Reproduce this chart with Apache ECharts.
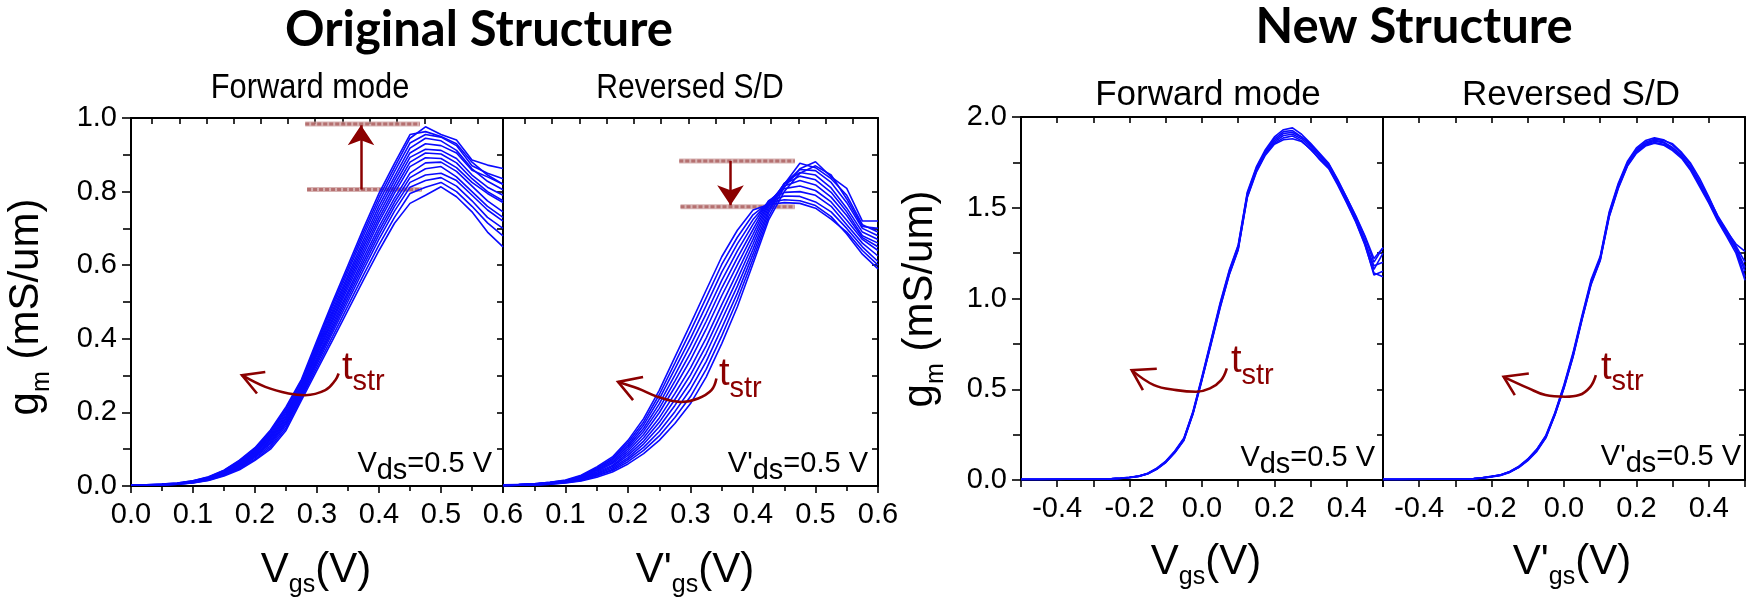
<!DOCTYPE html>
<html><head><meta charset="utf-8">
<script src="https://cdn.jsdelivr.net/npm/echarts@6/dist/echarts.min.js"></script>
<style>html,body{margin:0;padding:0;background:#fff}#c{width:1752px;height:604px}</style>
</head><body><div id="c"></div>
<script>
// ---------- data ----------
const vgsOrig = [0,0.025,0.05,0.075,0.1,0.125,0.15,0.175,0.2,0.225,0.25,0.275,0.3,0.325,0.35,0.375,0.4,0.425,0.45,0.475,0.5,0.525,0.55,0.575,0.6];
const vgsNew = [-0.5,-0.475,-0.45,-0.425,-0.4,-0.375,-0.35,-0.325,-0.3,-0.275,-0.25,-0.225,-0.2,-0.175,-0.15,-0.125,-0.1,-0.075,-0.05,-0.025,0,0.025,0.05,0.075,0.1,0.125,0.15,0.175,0.2,0.225,0.25,0.275,0.3,0.325,0.35,0.375,0.4,0.425,0.45,0.475,0.5];

// Original structure, forward mode (gm, mS/um)
const gmOrigFwd = [
 [.003,.003,.005,.008,.014,.025,.043,.070,.104,.152,.215,.290,.396,.500,.600,.700,.795,.877,.955,.963,.950,.930,.880,.845,.820],
 [.003,.003,.005,.008,.014,.024,.042,.068,.102,.148,.211,.286,.390,.493,.591,.690,.784,.866,.945,.976,.955,.940,.886,.872,.863],
 [.003,.003,.004,.007,.013,.023,.041,.066,.099,.145,.206,.282,.385,.485,.583,.680,.773,.854,.932,.955,.948,.925,.870,.850,.835],
 [.003,.003,.004,.007,.013,.023,.039,.064,.097,.141,.201,.277,.378,.477,.573,.669,.761,.841,.918,.945,.938,.912,.862,.828,.805],
 [.003,.003,.004,.007,.012,.022,.038,.062,.094,.137,.196,.273,.373,.470,.565,.659,.750,.830,.905,.930,.925,.905,.858,.840,.820],
 [.002,.003,.004,.007,.012,.021,.037,.061,.092,.133,.192,.269,.367,.463,.556,.650,.739,.818,.893,.915,.912,.890,.845,.812,.790],
 [.002,.003,.004,.007,.012,.020,.036,.059,.089,.130,.187,.265,.361,.455,.548,.640,.728,.807,.880,.905,.902,.878,.835,.800,.775],
 [.002,.003,.004,.006,.011,.020,.035,.057,.087,.126,.183,.262,.356,.448,.539,.630,.718,.796,.868,.892,.890,.865,.825,.795,.770],
 [.002,.002,.004,.006,.011,.019,.034,.055,.084,.122,.178,.257,.349,.440,.529,.619,.705,.782,.850,.878,.880,.855,.815,.775,.745],
 [.002,.002,.004,.006,.010,.018,.033,.053,.082,.118,.173,.253,.343,.432,.521,.609,.694,.771,.838,.862,.868,.840,.800,.760,.730],
 [.002,.002,.003,.006,.010,.018,.031,.051,.080,.115,.169,.249,.338,.425,.512,.599,.683,.760,.825,.845,.850,.830,.790,.750,.720],
 [.002,.002,.003,.005,.009,.017,.030,.049,.077,.110,.164,.244,.331,.417,.502,.588,.671,.747,.812,.830,.838,.815,.775,.730,.700],
 [.002,.002,.003,.005,.009,.016,.029,.047,.073,.105,.157,.239,.323,.406,.490,.574,.655,.730,.795,.812,.825,.800,.760,.715,.680],
 [.002,.002,.003,.005,.008,.015,.027,.044,.070,.100,.151,.233,.315,.396,.478,.560,.640,.714,.768,.790,.813,.786,.745,.690,.650]
];
// Original structure, reversed S/D
const gmOrigRev = [
 [.003,.004,.006,.010,.016,.029,.052,.079,.124,.183,.260,.350,.440,.532,.623,.695,.750,.765,.770,.768,.755,.725,.690,.640,.600],
 [.003,.004,.006,.010,.015,.027,.049,.075,.118,.174,.248,.334,.421,.511,.602,.676,.737,.770,.778,.775,.762,.732,.685,.630,.590],
 [.003,.004,.005,.009,.014,.026,.047,.072,.112,.166,.236,.318,.401,.490,.581,.658,.724,.772,.788,.787,.772,.745,.700,.650,.610],
 [.002,.003,.005,.009,.014,.025,.044,.068,.107,.157,.223,.301,.382,.468,.559,.639,.711,.775,.798,.800,.790,.760,.710,.660,.625],
 [.002,.003,.005,.008,.013,.023,.042,.064,.101,.149,.211,.285,.362,.447,.538,.620,.697,.774,.808,.815,.803,.772,.722,.670,.640],
 [.002,.003,.005,.008,.012,.022,.039,.061,.095,.140,.199,.269,.343,.426,.517,.601,.684,.770,.815,.830,.818,.785,.735,.675,.650],
 [.002,.003,.004,.007,.012,.020,.037,.056,.089,.131,.185,.251,.321,.402,.493,.581,.670,.765,.820,.842,.832,.798,.745,.680,.660],
 [.002,.003,.004,.007,.011,.019,.034,.053,.083,.122,.173,.235,.302,.381,.472,.562,.657,.758,.822,.852,.845,.810,.755,.690,.670],
 [.002,.002,.004,.006,.010,.018,.032,.049,.077,.114,.161,.219,.282,.360,.451,.543,.643,.750,.822,.860,.857,.825,.770,.700,.680],
 [.001,.002,.003,.006,.010,.016,.029,.045,.072,.105,.148,.202,.263,.338,.429,.524,.630,.742,.820,.877,.865,.835,.790,.710,.690],
 [.001,.002,.003,.005,.009,.015,.027,.042,.066,.097,.136,.186,.243,.317,.408,.506,.617,.732,.812,.862,.881,.840,.809,.720,.720],
 [.001,.002,.003,.005,.008,.014,.024,.038,.060,.088,.124,.170,.224,.296,.387,.487,.604,.723,.800,.850,.870,.845,.780,.705,.700]
];
// New structure, forward mode
const gmNewFwd = [
 [.004,.004,.004,.004,.004,.004,.004,.005,.005,.006,.007,.010,.015,.022,.037,.065,.104,.160,.232,.378,.570,.772,.975,1.155,1.295,1.585,1.725,1.820,1.890,1.930,1.940,1.905,1.855,1.800,1.745,1.655,1.555,1.450,1.340,1.200,1.280],
 [.004,.004,.004,.004,.004,.004,.004,.004,.005,.006,.007,.010,.014,.021,.035,.062,.100,.155,.225,.370,.560,.760,.962,1.140,1.282,1.572,1.712,1.805,1.870,1.910,1.915,1.890,1.845,1.785,1.735,1.645,1.545,1.440,1.320,1.160,1.250],
 [.003,.003,.003,.003,.004,.004,.004,.004,.005,.005,.007,.009,.014,.020,.034,.060,.098,.152,.222,.365,.555,.752,.952,1.132,1.272,1.560,1.700,1.795,1.855,1.885,1.895,1.870,1.820,1.770,1.720,1.630,1.530,1.425,1.300,1.130,1.150],
 [.004,.004,.004,.004,.004,.004,.004,.005,.005,.006,.008,.011,.015,.022,.036,.063,.102,.158,.228,.374,.565,.766,.968,1.148,1.290,1.578,1.718,1.812,1.880,1.920,1.925,1.890,1.850,1.795,1.740,1.650,1.555,1.455,1.345,1.220,1.280],
 [.003,.003,.003,.004,.004,.004,.004,.004,.005,.005,.007,.010,.014,.021,.035,.061,.099,.153,.223,.368,.558,.756,.958,1.136,1.276,1.566,1.705,1.800,1.862,1.898,1.905,1.880,1.835,1.780,1.728,1.640,1.540,1.432,1.310,1.180,1.200],
 [.003,.003,.003,.003,.003,.004,.004,.004,.004,.005,.006,.009,.013,.020,.033,.059,.096,.150,.218,.362,.550,.748,.948,1.128,1.268,1.555,1.695,1.790,1.850,1.875,1.880,1.865,1.825,1.765,1.715,1.625,1.525,1.420,1.295,1.140,1.120]
];
// New structure, reversed S/D
const gmNewRev = [
 [.004,.004,.004,.004,.004,.004,.005,.005,.005,.006,.008,.013,.020,.029,.047,.075,.116,.170,.246,.372,.525,.702,.908,1.105,1.232,1.478,1.635,1.755,1.830,1.870,1.885,1.875,1.845,1.800,1.735,1.645,1.555,1.455,1.375,1.290,1.200],
 [.004,.004,.004,.004,.004,.004,.004,.005,.005,.006,.007,.012,.019,.027,.045,.072,.112,.165,.240,.365,.515,.690,.895,1.090,1.220,1.465,1.620,1.740,1.815,1.855,1.872,1.862,1.832,1.790,1.722,1.632,1.542,1.445,1.362,1.280,1.170],
 [.003,.003,.003,.003,.004,.004,.004,.004,.005,.005,.007,.011,.018,.026,.043,.070,.109,.161,.235,.360,.508,.682,.888,1.082,1.212,1.455,1.612,1.732,1.805,1.845,1.860,1.850,1.820,1.780,1.712,1.625,1.532,1.432,1.350,1.265,1.120],
 [.004,.004,.004,.004,.004,.004,.004,.005,.005,.006,.008,.012,.020,.028,.046,.074,.114,.168,.244,.368,.520,.695,.900,1.095,1.225,1.470,1.628,1.748,1.822,1.862,1.878,1.870,1.852,1.805,1.745,1.660,1.560,1.450,1.370,1.300,1.260],
 [.003,.003,.003,.004,.004,.004,.004,.004,.005,.005,.007,.011,.019,.027,.044,.071,.110,.163,.237,.362,.512,.686,.892,1.086,1.216,1.460,1.616,1.736,1.810,1.850,1.866,1.858,1.828,1.785,1.718,1.628,1.538,1.440,1.355,1.272,1.150],
 [.003,.003,.003,.003,.003,.004,.004,.004,.004,.005,.006,.010,.017,.025,.042,.068,.107,.158,.232,.358,.505,.678,.884,1.078,1.208,1.450,1.606,1.728,1.800,1.840,1.855,1.845,1.815,1.772,1.705,1.615,1.525,1.425,1.340,1.250,1.100]
];

// tick values of the top axes of the original-structure panels
const topTicksOrig = [0.034,0.078,0.122,0.166,0.209,0.253,0.297,0.341,0.385,0.429,0.473,0.516,0.560];

// annotations (data coordinates)
const levelsOrigFwd = [[0.281,0.466,0.984],[0.284,0.469,0.806]];   // [x1,x2,y]
const arrowOrigFwd = [0.371,0.806,0.980];                            // [x,yFrom,yTip]
const levelsOrigRev = [[0.282,0.467,0.883],[0.284,0.467,0.759]];
const arrowOrigRev = [0.364,0.883,0.763];
const bendOrigFwd = [[0.3349,0.3057],[0.3295,0.2875],[0.3134,0.2603],[0.2811,0.2467],[0.2542,0.2513],[0.2166,0.2693],[0.179,0.301]];
const headOrigFwd = [[0.2166,0.310],[0.179,0.301],[0.2032,0.2513]];
const bendOrigRev = [[0.3415,0.2921],[0.3335,0.2603],[0.3122,0.2377],[0.2854,0.2284],[0.2481,0.2420],[0.2161,0.2649],[0.1841,0.2828]];
const headOrigRev = [[0.2241,0.2964],[0.1841,0.2828],[0.2081,0.2333]];
const bendNewFwd = [[0.0685,0.6147],[0.053,0.5503],[0.0221,0.5045],[-0.0166,0.4861],[-0.0707,0.4953],[-0.1326,0.5228],[-0.1942,0.6054]];
const headNewFwd = [[-0.1249,0.6131],[-0.1942,0.6054],[-0.1633,0.4953]];
const bendNewRev = [[0.0881,0.5779],[0.0727,0.5135],[0.0417,0.4678],[0.0030,0.4586],[-0.0511,0.4678],[-0.0972,0.5047],[-0.1669,0.5686]];
const headNewRev = [[-0.0972,0.5872],[-0.1669,0.5686],[-0.1359,0.4678]];

// ---------- chart ----------
const FONT = 'Liberation Sans, Arial, sans-serif';
const RED = '#8b0000';
const BLUE = '#0a0aff';
const grids = [
  {left:131, top:118, width:372, height:368},
  {left:503, top:118, width:375, height:368},
  {left:1021, top:117, width:362, height:363},
  {left:1383, top:117, width:362, height:363}
].map(g => Object.assign({outerBoundsMode:'none', containLabel:false}, g));

const lineBlack = {color:'#000', width:2};
const tickStyle = {color:'#000', width:1.6};
function fmt1(v){ if (Math.abs(v) < 1e-9) return '0.0'; return v.toFixed(1); }
function fmtEven(v){ const k = Math.round(v*10); if (k % 2 !== 0 || Math.abs(k) >= 5) return ''; return fmt1(v); }

const xAxes = [], yAxes = [];
function addPanel(gi, xmin, xmax, xInt, xFmt, xMinor, topTicks, topInt, ymin, ymax, yInt, yMinor, rightInt, showYLabels, showMinX) {
  xAxes.push({type:'value', gridIndex:gi, position:'bottom', min:xmin, max:xmax, interval:xInt,
    axisLine:{show:true, onZero:false, lineStyle:lineBlack},
    axisTick:{show:true, inside:false, length:7, lineStyle:tickStyle},
    minorTick:{show:xMinor, splitNumber:2, length:5, lineStyle:tickStyle},
    axisLabel:{show:true, color:'#000', fontFamily:FONT, fontSize:29, margin:14, formatter:xFmt, showMinLabel:showMinX, showMaxLabel:true},
    splitLine:{show:false}, minorSplitLine:{show:false}});
  const top = {type:'value', gridIndex:gi, position:'top', min:xmin, max:xmax,
    axisLine:{show:true, onZero:false, lineStyle:lineBlack},
    axisTick:{show:true, inside:true, length:6, lineStyle:tickStyle},
    axisLabel:{show:false}, splitLine:{show:false}};
  if (topTicks) top.axisTick.customValues = topTicks; else top.interval = topInt;
  xAxes.push(top);
  yAxes.push({type:'value', gridIndex:gi, position:'left', min:ymin, max:ymax, interval:yInt,
    axisLine:{show:true, onZero:false, lineStyle:lineBlack},
    axisTick:{show:showYLabels, inside:false, length:9, lineStyle:tickStyle},
    minorTick:{show:showYLabels, splitNumber:yMinor, length:8, lineStyle:tickStyle},
    axisLabel:{show:showYLabels, color:'#000', fontFamily:FONT, fontSize:29, margin:14, formatter:fmt1},
    splitLine:{show:false}, minorSplitLine:{show:false}});
  yAxes.push({type:'value', gridIndex:gi, position:'right', min:ymin, max:ymax, interval:rightInt,
    axisLine:{show:true, onZero:false, lineStyle:lineBlack},
    axisTick:{show:true, inside:true, length:6, lineStyle:tickStyle},
    axisLabel:{show:false}, splitLine:{show:false}});
}
addPanel(0, 0, 0.6, 0.1, fmt1, true, topTicksOrig, null, 0, 1, 0.2, 2, 0.1, true, true);
addPanel(1, 0, 0.6, 0.1, fmt1, true, topTicksOrig, null, 0, 1, 0.2, 2, 0.1, false, false);
addPanel(2, -0.5, 0.5, 0.1, fmtEven, false, null, 0.1, 0, 2, 0.5, 2, 0.25, true, true);
addPanel(3, -0.5, 0.5, 0.1, fmtEven, false, null, 0.1, 0, 2, 0.5, 2, 0.25, false, true);

const series = [];
function addCurves(xs, list, gi) {
  list.forEach(ys => series.push({type:'line', xAxisIndex:gi*2, yAxisIndex:gi*2,
    data: xs.map((x,i)=>[x, ys[i]]), showSymbol:false, symbol:'none', silent:true, z:3,
    lineStyle:{color:BLUE, width:1.6}}));
}
addCurves(vgsOrig, gmOrigFwd, 0);
addCurves(vgsOrig, gmOrigRev, 1);
addCurves(vgsNew, gmNewFwd, 2);
addCurves(vgsNew, gmNewRev, 3);

function addLevels(levels, gi) {
  levels.forEach(l => {
    series.push({type:'line', xAxisIndex:gi*2, yAxisIndex:gi*2, data:[[l[0],l[2]],[l[1],l[2]]],
      showSymbol:false, symbol:'none', silent:true, z:2, lineStyle:{color:'rgba(205,160,160,0.8)', width:5}});
    series.push({type:'line', xAxisIndex:gi*2, yAxisIndex:gi*2, data:[[l[0],l[2]],[l[1],l[2]]],
      showSymbol:false, symbol:'none', silent:true, z:2, lineStyle:{color:'rgba(170,90,90,0.75)', width:3, type:[4,2]}});
  });
}
function addArrow(a, gi) {
  series.push({type:'lines', coordinateSystem:'cartesian2d', xAxisIndex:gi*2, yAxisIndex:gi*2, silent:true, z:5,
    symbol:['none','arrow'], symbolSize:[11,20],
    lineStyle:{color:RED, width:2.5, opacity:1},
    data:[{coords:[[a[0],a[1]],[a[0],a[2]]]}]});
}
function addBend(bend, head, gi) {
  series.push({type:'line', xAxisIndex:gi*2, yAxisIndex:gi*2, data:bend, smooth:0.4,
    showSymbol:false, symbol:'none', silent:true, z:5, lineStyle:{color:RED, width:2.6}});
  series.push({type:'line', xAxisIndex:gi*2, yAxisIndex:gi*2, data:head,
    showSymbol:false, symbol:'none', silent:true, z:5, lineStyle:{color:RED, width:2.6, join:'miter'}});
}
addLevels(levelsOrigFwd, 0); addArrow(arrowOrigFwd, 0);
addLevels(levelsOrigRev, 1); addArrow(arrowOrigRev, 1);
addBend(bendOrigFwd, headOrigFwd, 0);
addBend(bendOrigRev, headOrigRev, 1);
addBend(bendNewFwd, headNewFwd, 2);
addBend(bendNewRev, headNewRev, 3);

// ---------- text ----------
function txt(x, y, text, font, align, vAlign, fill, extra) {
  return Object.assign({type:'text', x, y, silent:true, z:10,
    style:{text, font, fill: fill || '#000', align, verticalAlign:vAlign}}, extra || {});
}
function richTxt(x, y, text, rich, align, vAlign, extra) {
  return Object.assign({type:'text', x, y, silent:true, z:10,
    style:{text, rich, fill:'#000', align, verticalAlign:vAlign, fontFamily:FONT}}, extra || {});
}
const richAxis = {
  m:{fontSize:42, fontFamily:FONT, fill:'#000', verticalAlign:'top'},
  s:{fontSize:25, fontFamily:FONT, fill:'#000', verticalAlign:'top', padding:[24,0,0,0]}
};
const richVds = {
  m:{fontSize:29, fontFamily:FONT, fill:'#000', verticalAlign:'top'},
  s:{fontSize:29, fontFamily:FONT, fill:'#000', verticalAlign:'top', padding:[7,0,0,0]}
};
const richT = {
  m:{fontSize:38, fontFamily:FONT, fill:RED, verticalAlign:'top'},
  s:{fontSize:29, fontFamily:FONT, fill:RED, verticalAlign:'top', padding:[18,0,0,0]}
};
const graphics = [
  txt(479, 30, 'Original Structure', 'bold 49px Lato', 'center', 'middle'),
  txt(1414, 27.5, 'New Structure', 'bold 49px Lato', 'center', 'middle'),
  txt(310, 88, 'Forward mode', '35px ' + FONT, 'center', 'middle', null, {scaleX:0.88}),
  txt(690, 88, 'Reversed S/D', '35px ' + FONT, 'center', 'middle', null, {scaleX:0.86}),
  txt(1208, 95, 'Forward mode', '35px ' + FONT, 'center', 'middle'),
  txt(1571, 95, 'Reversed S/D', '35px ' + FONT, 'center', 'middle'),
  richTxt(316, 549, '{m|V}{s|gs}{m|(V)}', richAxis, 'center', 'top'),
  richTxt(695, 549, "{m|V'}{s|gs}{m|(V)}", richAxis, 'center', 'top'),
  richTxt(1206, 541, '{m|V}{s|gs}{m|(V)}', richAxis, 'center', 'top'),
  richTxt(1572, 541, "{m|V'}{s|gs}{m|(V)}", richAxis, 'center', 'top'),
  richTxt(30, 307, '{m|g}{s|m}{m| (mS/um)}', richAxis, 'center', 'middle', {rotation:Math.PI/2}),
  richTxt(924, 299, '{m|g}{s|m}{m| (mS/um)}', richAxis, 'center', 'middle', {rotation:Math.PI/2}),
  richTxt(492, 449.5, '{m|V}{s|ds}{m|=0.5 V}', richVds, 'right', 'top'),
  richTxt(868, 449, "{m|V'}{s|ds}{m|=0.5 V}", richVds, 'right', 'top'),
  richTxt(1375, 443.5, '{m|V}{s|ds}{m|=0.5 V}', richVds, 'right', 'top'),
  richTxt(1741, 442.5, "{m|V'}{s|ds}{m|=0.5 V}", richVds, 'right', 'top'),
  richTxt(342, 349.5, '{m|t}{s|str}', richT, 'left', 'top'),
  richTxt(719, 356, '{m|t}{s|str}', richT, 'left', 'top'),
  richTxt(1231, 343, '{m|t}{s|str}', richT, 'left', 'top'),
  richTxt(1601, 349.5, '{m|t}{s|str}', richT, 'left', 'top')
];

const chart = echarts.init(document.getElementById('c'), null, {renderer:'canvas'});
chart.setOption({
  animation:false,
  backgroundColor:'#fff',
  grid: grids,
  xAxis: xAxes,
  yAxis: yAxes,
  series: series,
  graphic: graphics
});
</script>
</body></html>
